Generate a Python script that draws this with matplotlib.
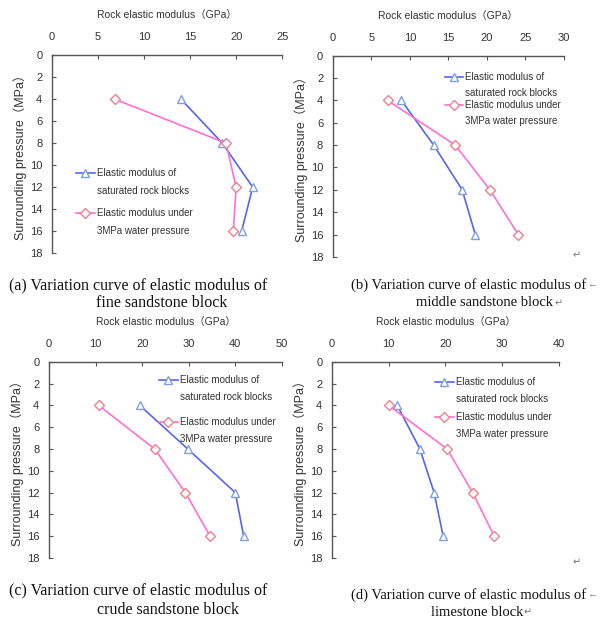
import matplotlib
matplotlib.use("Agg")
import matplotlib.pyplot as plt
import matplotlib.transforms as mtransforms
from matplotlib.lines import Line2D

SANS = ["Liberation Sans", "Noto Sans CJK SC"]
SERIF = ["Liberation Serif", "DejaVu Sans"]

plt.rcParams["font.family"] = SANS

# surrounding pressure (MPa)
pressure = [4, 8, 12, 16]

# elastic modulus (GPa)
fine_sat = [14.0, 18.5, 21.8, 20.6]
fine_water = [6.8, 18.9, 20.0, 19.7]
middle_sat = [8.9, 13.1, 16.8, 18.5]
middle_water = [7.1, 15.9, 20.4, 24.1]
crude_sat = [19.5, 29.8, 40.0, 41.8]
crude_water = [10.7, 22.7, 29.3, 34.6]
lime_sat = [11.5, 15.5, 18.0, 19.6]
lime_water = [10.0, 20.3, 24.8, 28.6]

xmax = [25, 30, 50, 40]
xstep = [5, 5, 10, 10]
yticks = list(range(0, 20, 2))

legend_labels = [
    ["Elastic modulus of", "saturated rock blocks"],
    ["Elastic modulus under", "3MPa water pressure"],
]

captions = [
    ("(a) Variation curve of elastic modulus of", "fine sandstone block"),
    ("(b) Variation curve of elastic modulus of", "middle sandstone block"),
    ("(c) Variation curve of elastic modulus of", "crude sandstone block"),
    ("(d) Variation curve of elastic modulus of", "limestone block"),
]

BLUE = "#5566ee"
BLUE_MK = "#7f9fe0"
PINK = "#ff6fd8"
PINK_MK = "#ee7f8f"
GREY = "#555555"
TXT = "#333333"

fig = plt.figure(figsize=(6.01, 6.19), dpi=100)
W, H = 601.0, 619.0

# [left, bottom, width, height] in figure fraction
boxes = [
    [0.0865, 0.591, 0.383, 0.320],
    [0.554, 0.585, 0.384, 0.325],
    [0.0815, 0.0985, 0.3875, 0.317],
    [0.5524, 0.0985, 0.3776, 0.317],
]
# legend anchor: handle x0, handle x1, text x, entry y1, entry y2 (axes fraction)
legends = [
    (0.104, 0.187, 0.196, 0.404, 0.202),
    (0.485, 0.563, 0.571, 0.896, 0.756),
    (0.472, 0.554, 0.562, 0.908, 0.694),
    (0.454, 0.537, 0.546, 0.898, 0.719),
]
# gap between the two lines of a legend label, points
legend_gap = [13, 11.5, 12, 12.5]
series = [
    (fine_sat, fine_water),
    (middle_sat, middle_water),
    (crude_sat, crude_water),
    (lime_sat, lime_water),
]

for i in range(4):
    ax = fig.add_axes(boxes[i])
    sat, water = series[i]
    ax.plot(sat, pressure, color=BLUE, lw=1.2, marker="^", ms=6,
            mfc="white", mec=BLUE_MK, mew=1.0)
    ax.plot(water, pressure, color=PINK, lw=1.2, marker="D", ms=5,
            mfc="white", mec=PINK_MK, mew=1.0)

    ax.set_xlim(0, xmax[i])
    ax.set_ylim(18, 0)
    ax.set_xticks(range(0, xmax[i] + 1, xstep[i]))
    ax.set_yticks(yticks)
    ax.xaxis.tick_top()
    ax.xaxis.set_label_position("top")
    for s in ["right", "bottom"]:
        ax.spines[s].set_visible(False)
    for s in ["top", "left"]:
        ax.spines[s].set_color(GREY)
        ax.spines[s].set_linewidth(1.0)
    ax.tick_params(axis="both", direction="in", length=3, width=0.8,
                   color=GREY, labelsize=8, labelcolor=TXT)
    ax.tick_params(axis="y", pad=7)
    ax.tick_params(axis="x", pad=9.5)
    ax.set_xlabel("Rock elastic modulus\uff08GPa\uff09", fontsize=7.5,
                  color=TXT, labelpad=10)
    ax.set_ylabel("Surrounding pressure\uff08MPa\uff09", fontsize=9,
                  color=TXT, labelpad=2)

    hx0, hx1, tx, y1, y2 = legends[i]
    line2 = mtransforms.offset_copy(ax.transAxes, fig=fig, y=-legend_gap[i],
                                    units="points")
    for yy, col, mk, mc, ms, lab in [
        (y1, BLUE, "^", BLUE_MK, 6, legend_labels[0]),
        (y2, PINK, "D", PINK_MK, 5, legend_labels[1]),
    ]:
        ax.add_line(Line2D([hx0, hx1], [yy, yy], transform=ax.transAxes,
                           color=col, lw=1.2, clip_on=False))
        ax.add_line(Line2D([(hx0 + hx1) / 2], [yy], transform=ax.transAxes,
                           marker=mk, ms=ms, mfc="white", mec=mc, mew=1.0,
                           clip_on=False))
        ax.text(tx, yy, lab[0], transform=ax.transAxes, fontsize=7,
                color=TXT, va="center", ha="left")
        ax.text(tx, yy, lab[1], transform=line2, fontsize=7,
                color=TXT, va="center", ha="left")

# captions below each panel (pixel coords from the top of the figure)
cap_pos = [
    (9, 285, 162, 303, 11.5),
    (351, 285, 485, 303, 10.5),
    (9, 590, 168, 610, 11.5),
    (351, 595, 477, 612, 10.5),
]
fig.canvas.draw()
r = fig.canvas.get_renderer()
for i, ((l1, l2), (x1, yl1, x2c, yl2, fs)) in enumerate(zip(captions, cap_pos)):
    t1 = fig.text(x1 / W, 1 - yl1 / H, l1, family=SERIF, fontsize=fs,
                  color="#111111", ha="left", va="center")
    t2 = fig.text(x2c / W, 1 - yl2 / H, l2, family=SERIF, fontsize=fs,
                  color="#111111", ha="center", va="center")
    if i in (1, 3):
        # Word paragraph / line-break marks
        b1 = t1.get_window_extent(r)
        b2 = t2.get_window_extent(r)
        fig.text(b1.x1 / W + 0.001, 1 - yl1 / H, "\u2190", family=SERIF,
                 fontsize=7, color="#777777", ha="left", va="center")
        fig.text(b2.x1 / W + 0.001, 1 - yl2 / H, "\u21b5", family=["DejaVu Sans"],
                 fontsize=7, color="#777777", ha="left", va="center")

# stray paragraph marks at the right of the panels
fig.text(573 / W, 1 - 258 / H, "\u21b5", family=["DejaVu Sans"], fontsize=7, color="#777777")
fig.text(573 / W, 1 - 565 / H, "\u21b5", family=["DejaVu Sans"], fontsize=7, color="#777777")

fig.savefig("out.png", dpi=100, facecolor="white")
